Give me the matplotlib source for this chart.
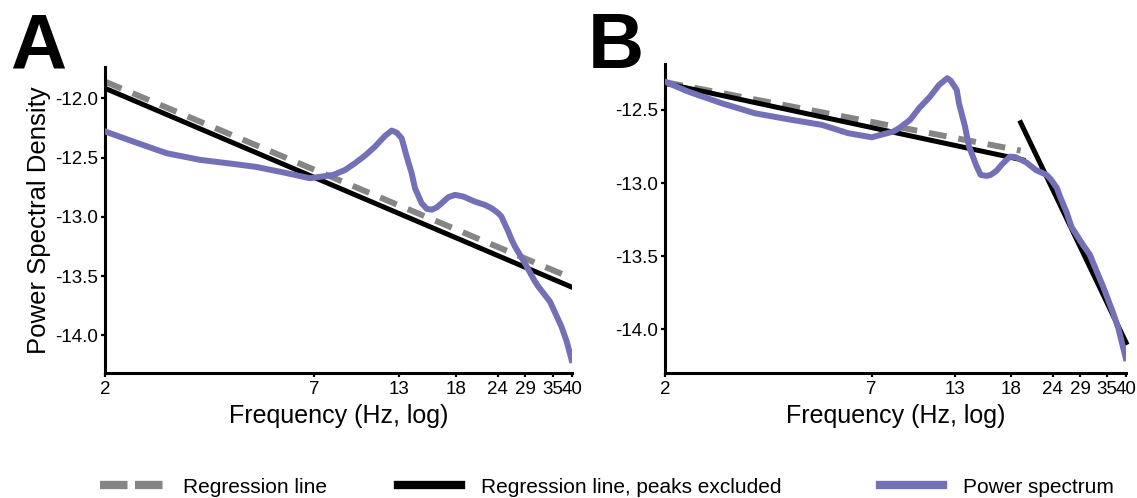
import numpy as np
import matplotlib
matplotlib.use("Agg")
import matplotlib.pyplot as plt
from matplotlib.lines import Line2D

plt.rcParams['font.family'] = ['Liberation Sans', 'DejaVu Sans']
plt.rcParams['axes.unicode_minus'] = False

# values
# panel A
freq_a = [2.0, 2.33, 2.81, 3.42, 4.18, 4.84, 5.86, 6.8, 7.92, 8.56, 9.14, 9.77, 10.44, 11.16,
          11.67, 12.07, 12.48, 12.91, 13.35, 13.66, 14.28, 14.78, 15.29, 15.81, 16.36, 17.11,
          17.9, 18.95, 20.5, 21.98, 23.0, 24.08, 24.6, 25.79, 26.4, 27.0, 28.9, 30.98, 31.7,
          34.36, 37.2, 38.57, 39.9]
psd_a = [-12.28, -12.366, -12.464, -12.52, -12.554, -12.58, -12.632, -12.675, -12.647, -12.605,
         -12.548, -12.484, -12.408, -12.318, -12.273, -12.29, -12.337, -12.492, -12.632, -12.76,
         -12.885, -12.933, -12.94, -12.922, -12.885, -12.835, -12.815, -12.829, -12.872, -12.90,
         -12.928, -12.97, -12.998, -13.125, -13.195, -13.251, -13.391, -13.546, -13.588,
         -13.715, -13.926, -14.052, -14.207]
reg_a_f = [2, 40]
reg_a_y = [-11.86, -13.518]
regx_a_f = [2, 40]
regx_a_y = [-11.916, -13.594]

# panel B
freq_b = [2.0, 2.27, 2.74, 3.34, 4.10, 5.06, 6.0, 7.0, 8.07, 8.39, 9.03, 9.59, 10.33, 10.98,
          11.61, 11.88, 12.38, 12.57, 13.1, 13.46, 14.19, 14.58, 15.19, 15.62, 16.27, 16.91,
          17.83, 18.55, 20.0, 21.3, 22.98, 23.64, 24.63, 25.2, 26.4, 27.33, 28.97, 29.65,
          31.06, 31.8, 33.3, 34.1, 36.55, 37.87, 39.9]
psd_b = [-12.307, -12.375, -12.454, -12.523, -12.564, -12.602, -12.659, -12.687, -12.648,
         -12.625, -12.568, -12.489, -12.409, -12.329, -12.283, -12.30, -12.363, -12.454,
         -12.614, -12.75, -12.887, -12.944, -12.951, -12.944, -12.915, -12.87, -12.819,
         -12.823, -12.86, -12.91, -12.944, -12.974, -13.03, -13.09, -13.2, -13.3, -13.39,
         -13.425, -13.49, -13.547, -13.655, -13.71, -13.889, -13.99, -14.196]
reg_b_f = [2, 19.2]
reg_b_y = [-12.31, -12.778]
regx_b_f1 = [2, 19.5]
regx_b_y1 = [-12.318, -12.842]
regx_b_f2 = [19.2, 40]
regx_b_y2 = [-12.587, -14.09]

# tick positions as they sit on the original axis
xticks = [2, 7, 12.25, 18, 24, 29, 35, 40]
xticklabels = ['2', '7', '13', '18', '24', '29', '35', '40']
yticks_a = [-12.0, -12.5, -13.0, -13.5, -14.0]
yticks_b = [-12.5, -13.0, -13.5, -14.0]

PURPLE = '#7470b8'
GRAY = '#858585'


def fwd(f):
    f = np.asarray(f, dtype=float)
    return np.log(np.maximum(f - 0.5, 1e-9))


def inv(t):
    return np.exp(t) + 0.5


fig = plt.figure(figsize=(11.37, 4.98), dpi=100)
ax_a = fig.add_axes([0.09235, 0.2516, 0.4107, 0.6145])
ax_b = fig.add_axes([0.5849, 0.2516, 0.4055, 0.6199])

for ax in (ax_a, ax_b):
    ax.set_xscale('function', functions=(fwd, inv))
    ax.set_xlim(2, 40)
    ax.set_xticks(xticks)
    ax.set_xticklabels(xticklabels)
    ax.minorticks_off()
    for s in ('top', 'right'):
        ax.spines[s].set_visible(False)
    for s in ('left', 'bottom'):
        ax.spines[s].set_linewidth(2.2)
    ax.tick_params(axis='both', labelsize=13.5, width=1.6, length=3, pad=2)
    ax.tick_params(axis='x', pad=3)
    ax.set_xlabel('Frequency (Hz, log)', fontsize=18, labelpad=4)

# A
ax_a.plot(reg_a_f, reg_a_y, color=GRAY, lw=4.3, dashes=(3, 2), dash_capstyle='butt', zorder=2)
ax_a.plot(regx_a_f, regx_a_y, color='black', lw=3.6, zorder=3)
ax_a.plot(freq_a, psd_a, color=PURPLE, lw=4.3, zorder=4, solid_joinstyle='round')
ax_a.set_ylim(-14.315, -11.734)
ax_a.set_yticks(yticks_a)
ax_a.set_yticklabels(['%.1f' % v for v in yticks_a])
ax_a.set_ylabel('Power Spectral Density', fontsize=18.5, labelpad=3)

# B
ax_b.plot(reg_b_f, reg_b_y, color=GRAY, lw=4.3, dashes=(3, 2), dash_capstyle='butt', zorder=2)
ax_b.plot(regx_b_f1, regx_b_y1, color='black', lw=3.6, zorder=3)
ax_b.plot(regx_b_f2, regx_b_y2, color='black', lw=3.6, zorder=3, clip_on=False)
ax_b.plot(freq_b, psd_b, color=PURPLE, lw=4.3, zorder=4, solid_joinstyle='round')
ax_b.set_ylim(-14.296, -12.186)
ax_b.set_yticks(yticks_b)
ax_b.set_yticklabels(['%.1f' % v for v in yticks_b])

fig.text(10 / 1137, 1 - 68 / 498, 'A', fontsize=56, fontweight='heavy', va='baseline')
fig.text(588 / 1137, 1 - 68 / 498, 'B', fontsize=56, fontweight='heavy', va='baseline')

# legend, three separate entries along the bottom
items = [
    (Line2D([], [], color=GRAY, lw=6, dashes=(3.3, 0.9), dash_capstyle='butt'), 'Regression line', 100),
    (Line2D([], [], color='black', lw=6), 'Regression line, peaks excluded', 398),
    (Line2D([], [], color=PURPLE, lw=6), 'Power spectrum', 880),
]
for h, lab, px in items:
    fig.legend([h], [lab], loc='center left', bbox_to_anchor=(px / 1137, 1 - 487 / 498),
               frameon=False, fontsize=15, handlelength=3.0, handletextpad=1.0,
               borderpad=0, borderaxespad=0)

fig.savefig('out.png', dpi=100)
